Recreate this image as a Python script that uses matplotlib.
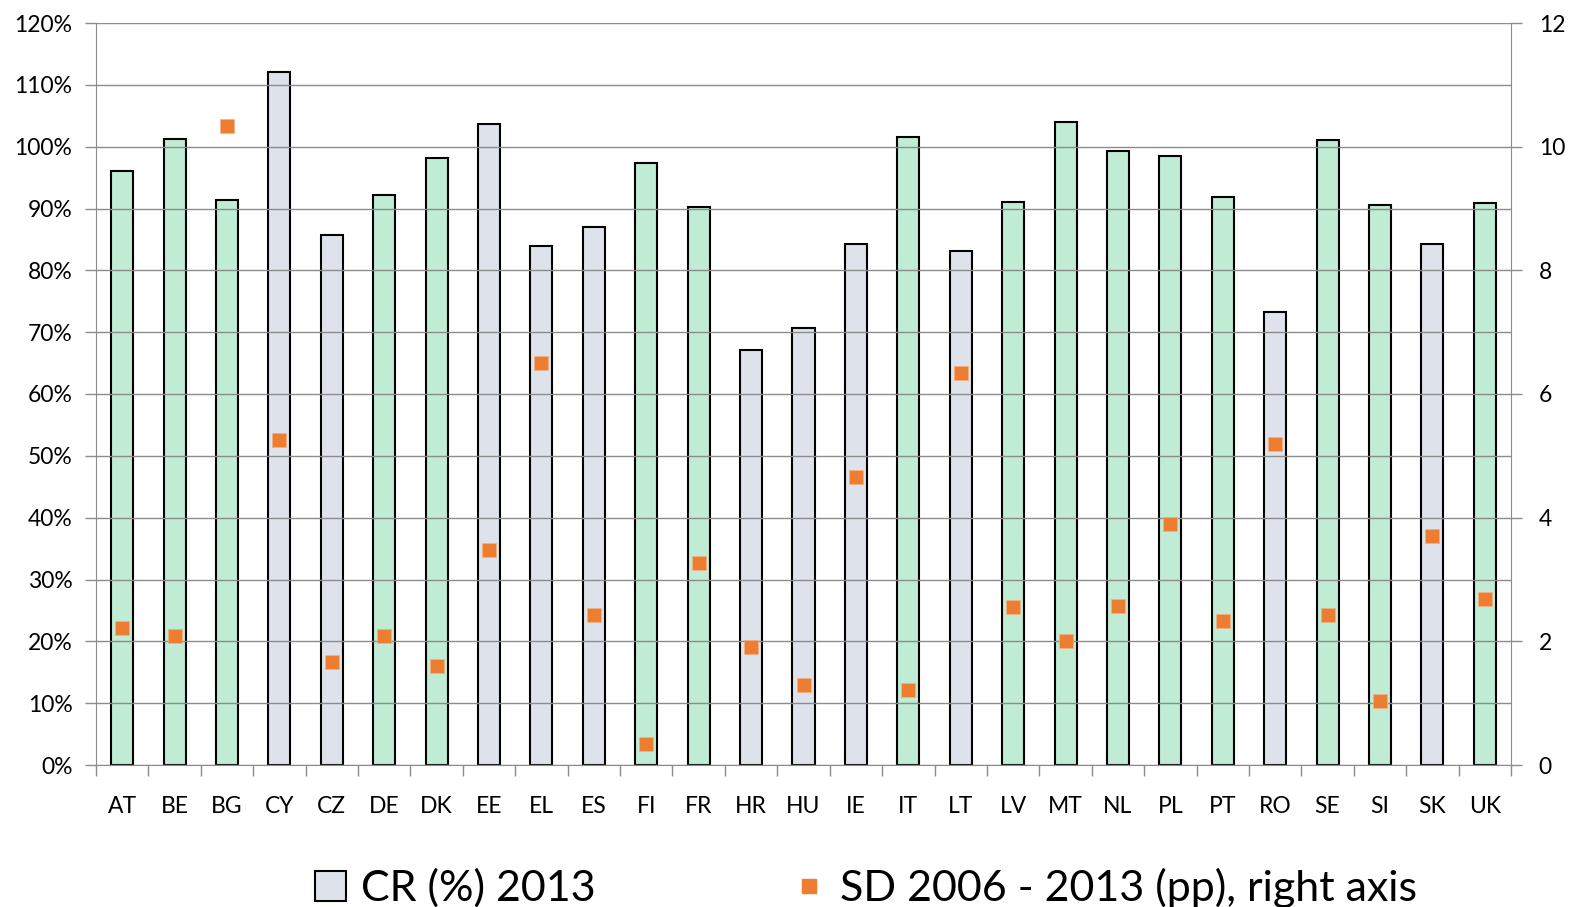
import matplotlib.pyplot as plt
from matplotlib.patches import Patch
from matplotlib.lines import Line2D

plt.rcParams['font.family'] = ['Lato', 'DejaVu Sans']

countries = ['AT', 'BE', 'BG', 'CY', 'CZ', 'DE', 'DK', 'EE', 'EL', 'ES', 'FI', 'FR', 'HR', 'HU',
             'IE', 'IT', 'LT', 'LV', 'MT', 'NL', 'PL', 'PT', 'RO', 'SE', 'SI', 'SK', 'UK']
cr_2013 = [96.0, 101.3, 91.4, 112.0, 85.7, 92.2, 98.2, 103.6, 83.9, 87.0, 97.3, 90.2, 67.1, 70.7,
           84.2, 101.5, 83.1, 91.0, 104.0, 99.3, 98.5, 91.9, 73.2, 101.0, 90.6, 84.2, 90.9]
sd_2006_2013 = [2.22, 2.09, 10.33, 5.26, 1.67, 2.09, 1.60, 3.48, 6.50, 2.43, 0.34, 3.27, 1.91, 1.29,
                4.66, 1.21, 6.34, 2.56, 2.00, 2.57, 3.90, 2.33, 5.19, 2.43, 1.04, 3.70, 2.68]
# green = group highlighted in the original, grey = others
is_green = [1, 1, 1, 0, 0, 1, 1, 0, 0, 0, 1, 1, 0, 0,
            0, 1, 0, 1, 1, 1, 1, 1, 0, 1, 1, 0, 1]

green = '#c0ebd4'
grey = '#dee3eb'
orange = '#ed7d31'
gridc = '#8c8c8c'

fig = plt.figure(figsize=(15.71, 9.07), dpi=100)
ax = fig.add_axes([96/1571, 1-765/907, (1511-96)/1571, (765-23)/907])

x = range(len(countries))
colors = [green if g else grey for g in is_green]
ax.bar(x, cr_2013, width=0.42, color=colors, edgecolor='black', linewidth=1.5, zorder=1)

ax.set_xlim(-0.5, len(countries) - 0.5)
ax.set_ylim(0, 120)
ax.set_yticks(range(0, 121, 10))
ax.set_yticklabels(['%d%%' % v for v in range(0, 121, 10)])
ax.set_axisbelow(False)
ax.yaxis.grid(True, color=gridc, linewidth=1.0, zorder=2)
ax.set_xticks(list(x))
ax.set_xticklabels(countries)
ax.set_xticks([i + 0.5 for i in range(-1, len(countries))], minor=True)
ax.tick_params(axis='x', which='major', length=0, pad=22, labelsize=16.5)
ax.tick_params(axis='x', which='minor', length=8, color=gridc, width=1)
ax.tick_params(axis='y', length=8, color=gridc, width=1, labelsize=16.5, pad=9)
for s in ['top', 'right']:
    ax.spines[s].set_visible(False)
for s in ['left', 'bottom']:
    ax.spines[s].set_color(gridc)

ax2 = ax.twinx()
ax2.plot(x, sd_2006_2013, linestyle='none', marker='s', markersize=10,
         color=orange, markeredgecolor='#f4b183', markeredgewidth=0.5, zorder=3)
ax2.set_ylim(0, 12)
ax2.set_yticks(range(0, 13, 2))
ax2.tick_params(axis='y', length=8, color=gridc, width=1, labelsize=16.5, pad=12)
for s in ['top', 'left', 'bottom']:
    ax2.spines[s].set_visible(False)
ax2.spines['right'].set_color(gridc)

handles = [Patch(facecolor=grey, edgecolor='black', linewidth=1.5),
           Line2D([], [], linestyle='none', marker='s', markersize=10, color=orange)]
fig.legend(handles, ['CR (%) 2013', 'SD 2006 - 2013 (pp), right axis'],
           loc='center', bbox_to_anchor=(0.551, 0.021), ncol=2, frameon=False,
           fontsize=31, handlelength=0.72, handleheight=0.72, handletextpad=0.35,
           columnspacing=4.6)

plt.savefig('out.png', dpi=100)
plt.close()
